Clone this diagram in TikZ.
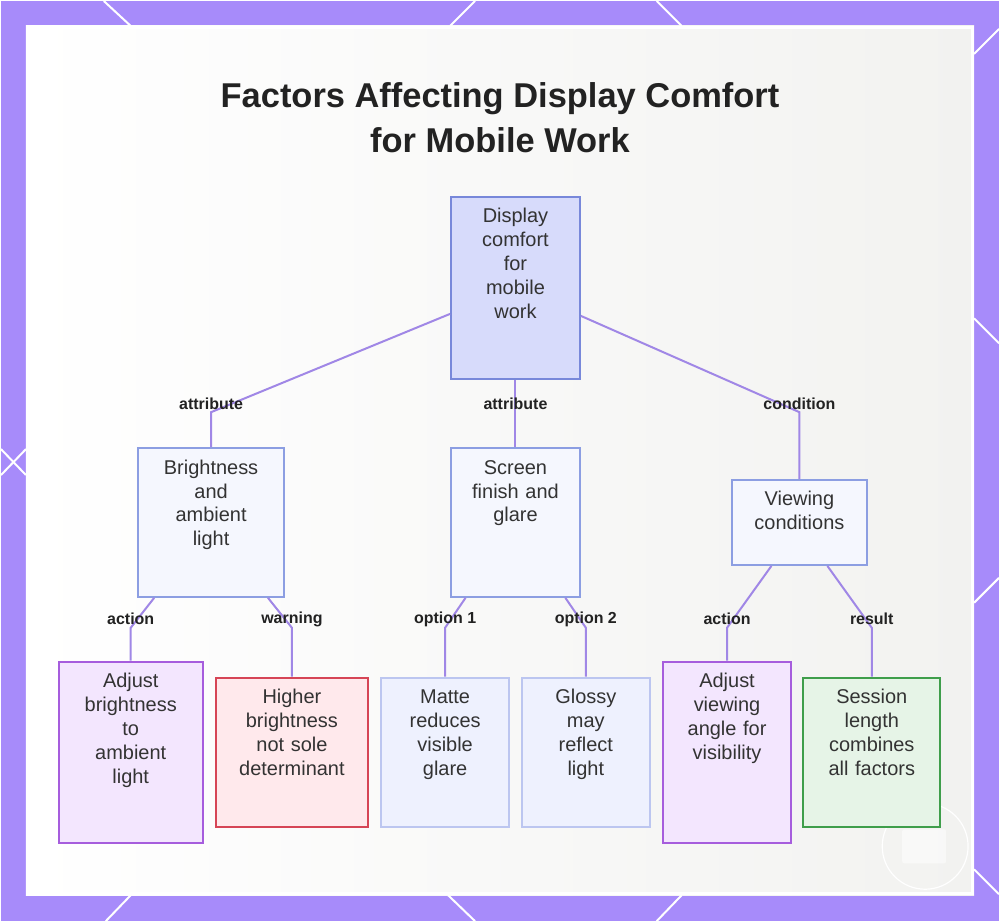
\documentclass[tikz,border=0pt]{standalone}
\usepackage{fontspec}
\setmainfont{Liberation Sans}
\usetikzlibrary{positioning}
\definecolor{dcpurple}{HTML}{A78BFA}
\definecolor{dcink}{HTML}{222222}
\definecolor{dctext}{HTML}{333333}
\definecolor{dclink}{HTML}{A087E6}
\definecolor{dcpanel}{HTML}{F2F2F0}
\definecolor{dcrootfill}{HTML}{D7DBFB}
\definecolor{dcrootline}{HTML}{7888DA}
\definecolor{dcmidfill}{HTML}{F5F7FE}
\definecolor{dcmidline}{HTML}{8C9EE2}
\definecolor{dcoptfill}{HTML}{EEF1FE}
\definecolor{dcoptline}{HTML}{BCC6F0}
\definecolor{dcactfill}{HTML}{F3E6FE}
\definecolor{dcactline}{HTML}{A65DDD}
\definecolor{dcwarnfill}{HTML}{FFE9EC}
\definecolor{dcwarnline}{HTML}{D64556}
\definecolor{dcokfill}{HTML}{E6F4E7}
\definecolor{dcokline}{HTML}{3F9E4B}

\begin{document}
\begin{tikzpicture}[
      x=1pt, y=-1pt,
      box/.style={
        rectangle, line width=2pt,
        font=\fontsize{20}{24}\selectfont, text=dctext, align=center,
        inner xsep=4pt, inner ysep=8pt, text height=18pt
      },
      rootbox/.style={box, draw=dcrootline, fill=dcrootfill},
      midbox/.style={box, draw=dcmidline, fill=dcmidfill},
      optbox/.style={box, draw=dcoptline, fill=dcoptfill},
      actbox/.style={box, draw=dcactline, fill=dcactfill},
      warnbox/.style={box, draw=dcwarnline, fill=dcwarnfill},
      okbox/.style={box, draw=dcokline, fill=dcokfill},
      link/.style={line width=2pt, dclink},
      elabel/.style={font=\bfseries\fontsize{16}{19}\selectfont, text=dcink, inner sep=0pt, yshift=8.5pt},
      deco/.style={white, line width=2pt}
    ]
      % frame and panel
      \fill[dcpurple] (0,0) rectangle (1000,922);
      \shade[left color=white, right color=dcpanel] (25,25) rectangle (975,896);
      \draw[white, line width=3pt] (26.5,26.5) rectangle (973.5,894.5);
      \foreach \xa/\ya/\xb/\yb in {103/0/130/25, 475/0/450/25, 657/0/682/25,
                                   975/53/1000/28, 975/318/1000/343, 975/603/1000/578,
                                   975/870/1000/895, 130/896/105/922, 448/896/475/922,
                                   682/896/657/922, 0/449/25/475, 0/475/25/449}
        \draw[deco] (\xa,\ya) -- (\xb,\yb);
      \draw[white, line width=1.2pt] (926,847) circle[radius=43];
      \fill[white, opacity=0.5, rounded corners=2pt] (903,830) rectangle (947,864);

      \node[font=\bfseries\fontsize{34.5}{45}\selectfont, text=dcink, align=center, anchor=base] (title) at (500,152)
        {Factors Affecting Display Comfort\\for Mobile Work};

      % tree
      \node[rootbox, text width=121pt, text depth=149pt] (root) at (515.5,287.5) {Display\\comfort\\for\\mobile\\work};
      \node[midbox, text width=121pt, text depth=115pt, below=67pt of root] (screen) {Screen\\finish and\\glare};
      \node[midbox, text width=139pt, text depth=115pt, left=165pt of screen] (bright) {Brightness\\and\\ambient\\light};
      \node[midbox, text width=128pt, text depth=51pt, right=150pt of screen] (view) {Viewing\\conditions};

      \node[optbox, text width=120pt, text depth=116pt] (matte) at (445,753) {Matte\\reduces\\visible\\glare};
      \node[warnbox, text width=145pt, text depth=116pt, left=11pt of matte] (higher) {Higher\\brightness\\not sole\\determinant};
      \node[actbox, text width=136pt, text depth=148pt, left=11pt of higher] (adjb) {Adjust\\brightness\\to\\ambient\\light};
      \node[optbox, text width=120pt, text depth=116pt, right=11pt of matte] (glossy) {Glossy\\may\\reflect\\light};
      \node[actbox, text width=121pt, text depth=148pt, right=11pt of glossy] (adjv) {Adjust\\viewing\\angle for\\visibility};
      \node[okbox, text width=129pt, text depth=116pt, right=10pt of adjv] (session) {Session\\length\\combines\\all factors};

      \coordinate (row1) at (0,412);
      \coordinate (row2) at (0,628);

      \draw[link] ([yshift=-26pt]root.west) -- (bright.north |- row1) node[elabel] {attribute} -- (bright.north);
      \draw[link] (root.south) -- (screen.north |- row1) node[elabel] {attribute} -- (screen.north);
      \draw[link] ([yshift=-28pt]root.east) -- (view.north |- row1) node[elabel] {condition} -- (view.north);

      \draw[link] ([xshift=-57pt]bright.south) -- (adjb.north |- row2) node[elabel] {action} -- (adjb.north);
      \draw[link] ([xshift=57pt]bright.south) -- (higher.north |- row2) node[elabel] {warning} -- (higher.north);
      \draw[link] ([xshift=-50pt]screen.south) -- (matte.north |- row2) node[elabel] {option 1} -- (matte.north);
      \draw[link] ([xshift=50pt]screen.south) -- (glossy.north |- row2) node[elabel] {option 2} -- (glossy.north);
      \draw[link] ([xshift=-28pt]view.south) -- (adjv.north |- row2) node[elabel] {action} -- (adjv.north);
      \draw[link] ([xshift=28pt]view.south) -- (session.north |- row2) node[elabel] {result} -- (session.north);
    \end{tikzpicture}
\end{document}
